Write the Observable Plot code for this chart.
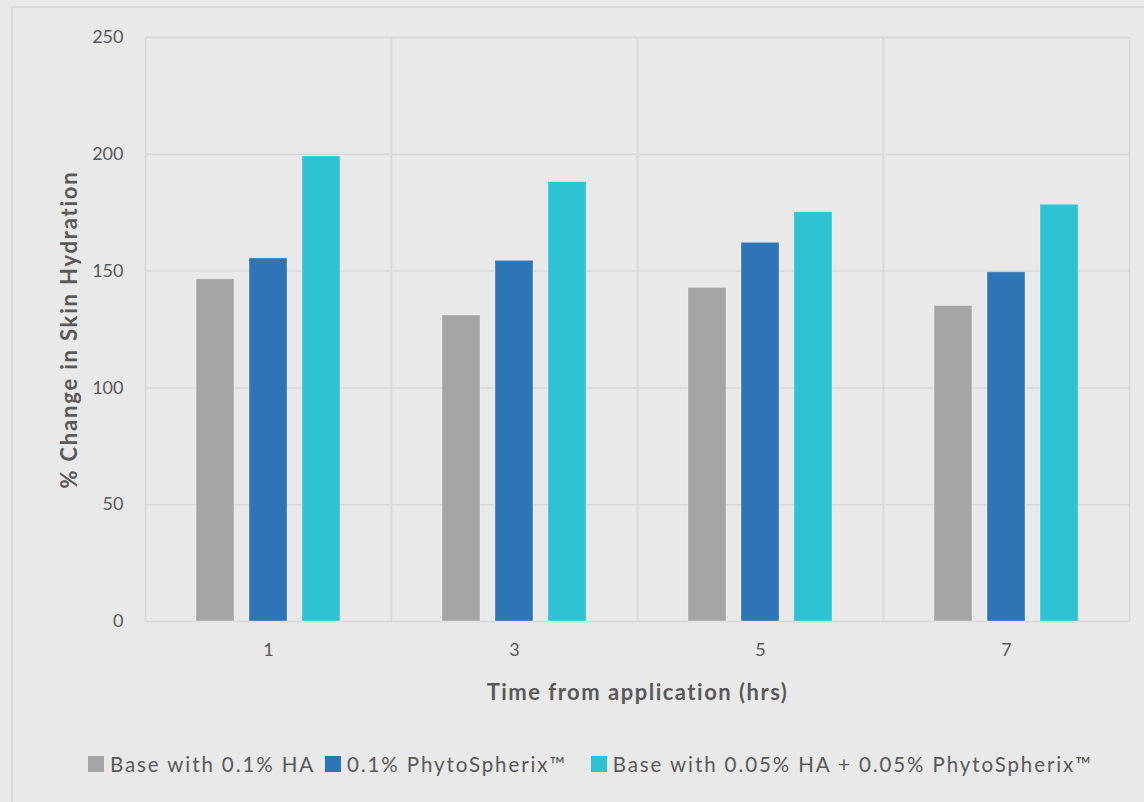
<!DOCTYPE html>
<html>
<head>
<meta charset="utf-8">
<script src="https://cdn.jsdelivr.net/npm/d3@7"></script>
<script src="https://cdn.jsdelivr.net/npm/@observablehq/plot@0.6"></script>
<style>
  html, body { margin: 0; padding: 0; width: 1144px; height: 802px; overflow: hidden; background: #e9e9e9; font-family: Lato, "Open Sans", sans-serif; }
  #wrap { position: relative; width: 1144px; height: 802px; }
  #border { position: absolute; left: 11px; top: 6px; width: 1300px; height: 1000px; border: 2px solid #dadada; box-sizing: border-box; pointer-events: none; }
  #chart { position: absolute; left: 0; top: 0; }
  #chart svg { background: transparent; }
  g[aria-label="y-axis label"] text { font-weight: bold; font-size: 22px; letter-spacing: 1.8px; }
  g[aria-label="fx-axis label"] text { font-weight: bold; font-size: 22px; letter-spacing: 1.5px; }
  #legend { position: absolute; top: 752px; left: 88px; display: flex; align-items: center; font-size: 20.5px; letter-spacing: 1.9px; color: #595959; white-space: nowrap; }
  .item { display: flex; align-items: center; margin-right: 10px; }
  .item:nth-child(2) { margin-right: 24px; }
  .sw { width: 16px; height: 16px; margin-right: 6px; }
</style>
</head>
<body>
<div id="wrap">
  <div id="border"></div>
  <div id="chart"></div>
  <div id="legend"></div>
</div>
<script>
const times = [1, 3, 5, 7];
const seriesNames = ["Base with 0.1% HA", "0.1% PhytoSpherix\u2122", "Base with 0.05% HA + 0.05% PhytoSpherix\u2122"];
const baseHA = [146.5, 131.0, 142.8, 135.1];
const phyto = [155.4, 154.4, 162.1, 149.5];
const combo = [199.1, 188.1, 175.2, 178.4];
const seriesColors = ["#a5a5a5", "#2e75b6", "#2ec2d2"];
const yTicks = [0, 50, 100, 150, 200, 250];

const allValues = [baseHA, phyto, combo];
const data = [];
times.forEach((t, i) => {
  seriesNames.forEach((s, j) => data.push({time: t, series: s, value: allValues[j][i]}));
});

const chart = Plot.plot({
  width: 1144,
  height: 720,
  marginTop: 37,
  marginLeft: 145,
  marginRight: 15,
  marginBottom: 99,
  style: {fontFamily: "Lato, 'Open Sans', sans-serif", fontSize: "18px", color: "#595959", background: "transparent"},
  fx: {domain: times, padding: 0},
  x: {domain: seriesNames, paddingInner: 0.28, paddingOuter: 0.93, axis: null},
  y: {domain: [0, 250]},
  color: {domain: seriesNames, range: seriesColors},
  marks: [
    Plot.gridY(yTicks.slice(1), {stroke: "#d9d9d9", strokeOpacity: 1, strokeWidth: 1.5}),
    Plot.frame({stroke: "#d9d9d9", strokeWidth: 1.5}),
    Plot.barY(data, {fx: "time", x: "series", y: "value", fill: "series", stroke: "#ffffff", strokeOpacity: 0.35, strokeWidth: 1}),
    Plot.axisY({ticks: yTicks, tickSize: 0, tickPadding: 22, label: "% Change in Skin Hydration", labelAnchor: "center", labelArrow: "none", labelOffset: 84, fontSize: 18}),
    Plot.axisFx({anchor: "bottom", tickSize: 0, tickPadding: 22, label: "Time from application (hrs)", labelAnchor: "center", labelArrow: "none", labelOffset: 78, fontSize: 18})
  ]
});
document.getElementById("chart").appendChild(chart);

const legend = document.getElementById("legend");
seriesNames.forEach((s, i) => {
  const item = document.createElement("div");
  item.className = "item";
  const sw = document.createElement("div");
  sw.className = "sw";
  sw.style.background = seriesColors[i];
  const lab = document.createElement("span");
  lab.textContent = s;
  item.appendChild(sw);
  item.appendChild(lab);
  legend.appendChild(item);
});
</script>
</body>
</html>
